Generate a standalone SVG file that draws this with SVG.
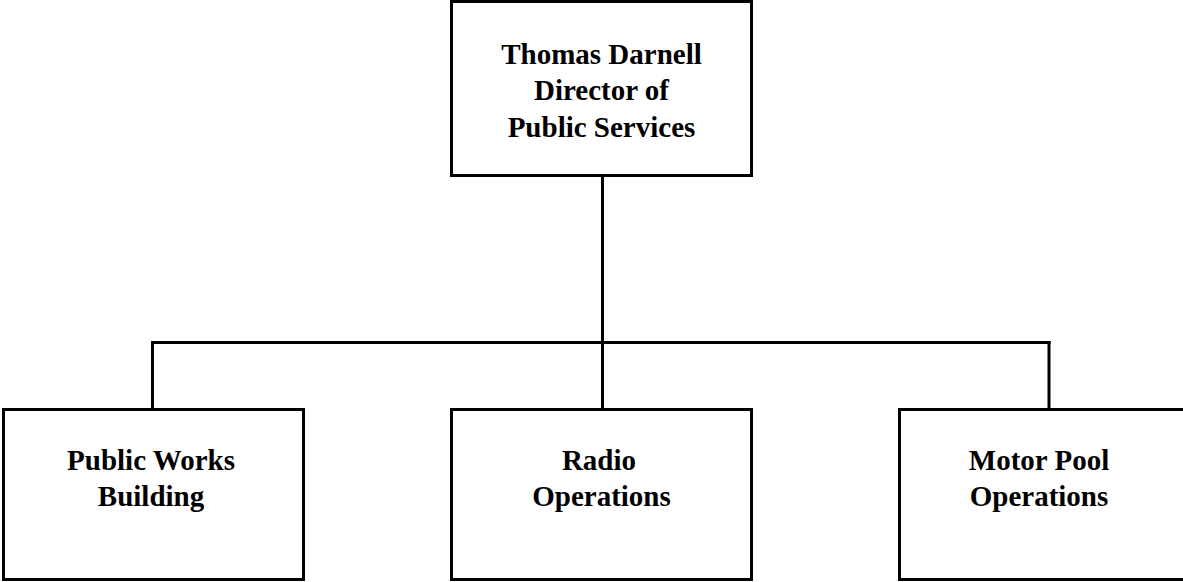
<svg xmlns="http://www.w3.org/2000/svg" width="1183" height="582" viewBox="0 0 1183 582">
  <style>
    .box { fill: #ffffff; stroke: #000000; stroke-width: 3; }
    .link { fill: none; stroke: #000000; stroke-width: 3; }
    .label { font-family: "Liberation Serif", "Times New Roman", serif; font-weight: bold; font-size: 29px; fill: #000000; text-anchor: middle; }
  </style>
  <rect width="1183" height="582" fill="#ffffff"/>
  <g id="connectors">
    <line class="link" x1="602.5" y1="175" x2="602.5" y2="409"/>
    <line class="link" x1="151" y1="342.5" x2="1050.5" y2="342.5"/>
    <line class="link" x1="152.5" y1="341" x2="152.5" y2="409"/>
    <line class="link" x1="1049" y1="341" x2="1049" y2="409"/>
  </g>
  <g id="director">
    <rect class="box" x="451.5" y="1.5" width="300" height="174"/>
    <text class="label" x="601.5" y="64">Thomas Darnell</text>
    <text class="label" x="601.5" y="100">Director of</text>
    <text class="label" x="601.5" y="137">Public Services</text>
  </g>
  <g id="public-works">
    <rect class="box" x="3.5" y="409.5" width="300" height="170"/>
    <text class="label" x="151" y="470">Public Works</text>
    <text class="label" x="151" y="506">Building</text>
  </g>
  <g id="radio">
    <rect class="box" x="451.5" y="409.5" width="300" height="170"/>
    <text class="label" x="599" y="470">Radio</text>
    <text class="label" x="601.5" y="506">Operations</text>
  </g>
  <g id="motor-pool">
    <rect class="box" x="899.5" y="409.5" width="300" height="170"/>
    <text class="label" x="1039" y="470">Motor Pool</text>
    <text class="label" x="1039" y="506">Operations</text>
  </g>
</svg>
